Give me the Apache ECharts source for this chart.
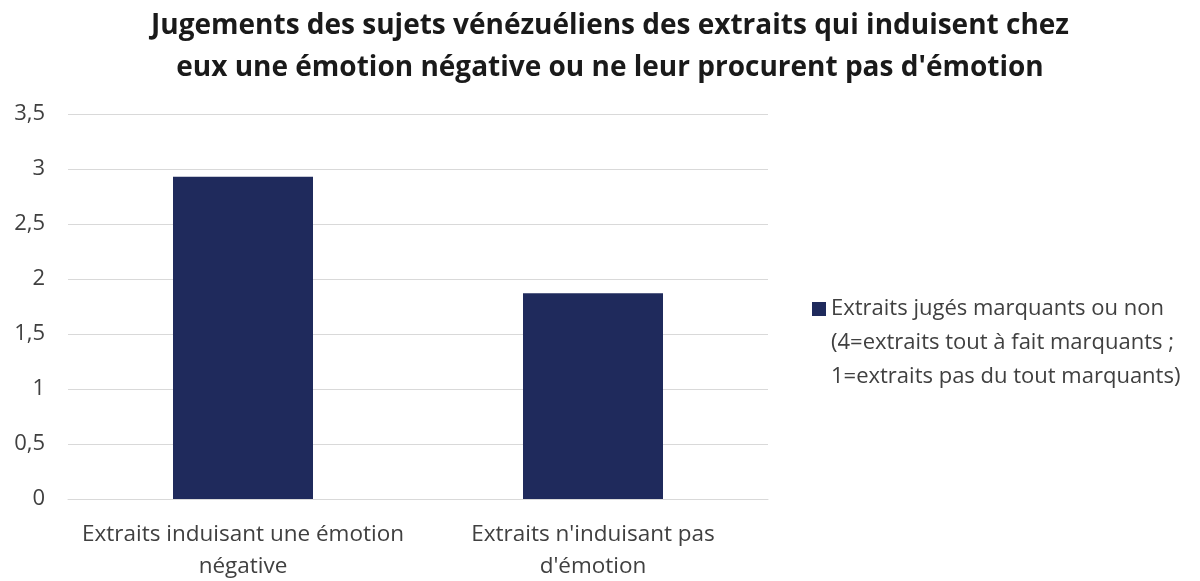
<!DOCTYPE html>
<html>
<head>
<meta charset="utf-8">
<script src="https://cdn.jsdelivr.net/npm/echarts@6/dist/echarts.min.js"></script>
<style>html,body{margin:0;padding:0;background:#fff}#chart{width:1200px;height:581px}</style>
</head>
<body>
<div id="chart"></div>
<script>
// Catégories, série et graduations
const categories = ["Extraits induisant une émotion\nnégative", "Extraits n'induisant pas\nd'émotion"];
const seriesName = "Extraits jugés marquants ou non\n(4=extraits tout à fait marquants ;\n1=extraits pas du tout marquants)";
const values = [2.93, 1.87];
const yTicks = { min: 0, max: 3.5, interval: 0.5 };

const chart = echarts.init(document.getElementById('chart'), null, { renderer: 'canvas' });
const font = '"Open Sans", "Noto Sans", sans-serif';

chart.setOption({
  animation: false,
  title: {
    text: "Jugements des sujets vénézuéliens des extraits qui induisent chez\neux une émotion négative ou ne leur procurent pas d'émotion",
    left: 605,
    textAlign: 'center',
    top: 0,
    textStyle: { fontFamily: font, fontSize: 28, fontWeight: 'bold', color: '#1a1a1a', lineHeight: 42 }
  },
  grid: { left: 68, right: 432, top: 114, bottom: 82, containLabel: false, outerBoundsMode: 'none' },
  legend: {
    left: 807,
    top: 287,
    orient: 'vertical',
    // square marker sitting beside the first line of the three-line label
    icon: 'path://M0,0H14V14H0Z M0,82L0.001,82',
    itemWidth: 14,
    itemHeight: 82,
    itemGap: 6,
    data: [seriesName],
    textStyle: { fontFamily: font, fontSize: 22, color: '#404040', lineHeight: 34 }
  },
  xAxis: {
    type: 'category',
    data: categories,
    axisLine: { lineStyle: { color: '#d9d9d9', width: 1 } },
    axisTick: { show: false },
    axisLabel: { fontFamily: font, fontSize: 22.5, color: '#404040', lineHeight: 32, margin: 20, interval: 0 }
  },
  yAxis: {
    type: 'value',
    min: yTicks.min,
    max: yTicks.max,
    interval: yTicks.interval,
    axisLine: { show: false },
    axisTick: { show: false },
    splitLine: { lineStyle: { color: '#d9d9d9', width: 1 } },
    axisLabel: {
      fontFamily: font, fontSize: 22, color: '#404040', margin: 23,
      formatter: v => String(v).replace('.', ',')
    }
  },
  series: [{
    name: seriesName,
    type: 'bar',
    data: values,
    barWidth: '40%',
    itemStyle: { color: '#1f2a5c' }
  }]
});
</script>
</body>
</html>
